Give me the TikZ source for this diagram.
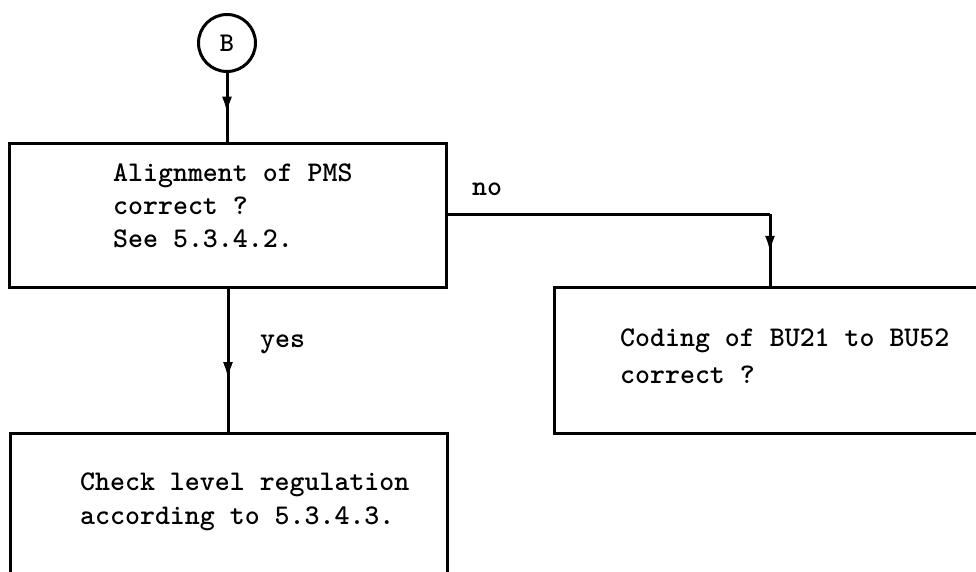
\documentclass[tikz,border=0pt]{standalone}
\usetikzlibrary{arrows.meta,decorations.markings}
\tikzset{
  box/.style={draw, line width=3.2pt, rectangle, inner sep=0pt, anchor=north west},
  conn/.style={line width=3pt},
  midarrow/.style={decoration={markings, mark=at position #1 with {\arrow{Latex[length=17pt,width=10pt]}}}, postaction={decorate}},
  txt/.style={inner sep=0pt, anchor=base west, font=\ttfamily\bfseries\fontsize{28.5}{32}\selectfont},
  conncircle/.style={draw, circle, line width=3pt, minimum size=57pt, inner sep=0pt, font=\ttfamily\bfseries\fontsize{27}{30}\selectfont}
}
\begin{document}
\begin{tikzpicture}[x=1pt, y=-1pt]
\useasboundingbox (0,0) rectangle (976,572);
\clip (0,0) rectangle (976,572);
% connector circle
\node[conncircle] (B) at (227,43) {B};
% boxes
\node[box, minimum width=437pt, minimum height=144pt] (box1) at (8,142) {};
\node[box, minimum width=447pt, minimum height=146pt] (box2) at (553,286) {};
\node[box, minimum width=437pt, minimum height=200pt] (box3) at (9,432) {};
% texts
\node[txt] (t1a) at (113,182) {Alignment of PMS};
\node[txt] (t1b) at (113,214) {correct ?};
\node[txt] (t1c) at (113,247) {See 5.3.4.2.};
\node[txt] (t2a) at (620,346) {Coding of BU21 to BU52};
\node[txt] (t2b) at (620,383) {correct ?};
\node[txt] (t3a) at (80,490) {Check level regulation};
\node[txt] (t3b) at (80,524) {according to 5.3.4.3.};
\node[txt] (lno) at (472,195) {no};
\node[txt] (lyes) at (260,347) {yes};
% connectors
\coordinate (nocorner) at (770,214);
\coordinate (yesx) at (228,360);
\draw[conn, midarrow=0.59] (B.south) -- (B.south |- box1.north);
\draw[conn] (box1.east |- nocorner) -- (nocorner);
\draw[conn, midarrow=0.54] (nocorner) -- (nocorner |- box2.north);
\draw[conn, midarrow=0.63] (yesx |- box1.south) -- (yesx |- box3.north);
\end{tikzpicture}
\end{document}
